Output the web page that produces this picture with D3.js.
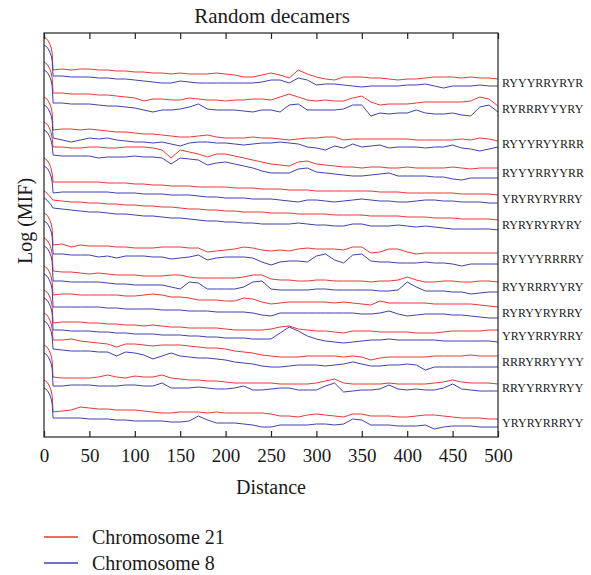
<!DOCTYPE html>
<html><head><meta charset="utf-8">
<script src="https://cdn.jsdelivr.net/npm/d3@7"></script>
<style>
body{margin:0;background:#fff}
text{font-family:"Liberation Serif","Times New Roman",serif;fill:#1a1a1a}
</style>
</head><body>
<svg id="chart" width="591" height="575"></svg>
<script>
// Distance (x) at which every series is sampled
const distance = [0,2,4,6,8,9,10,20,30,40,50,60,70,80,90,100,110,120,130,140,150,160,170,180,190,200,210,220,230,240,250,260,270,280,290,300,310,320,330,340,350,360,370,380,390,400,410,420,430,440,450,460,470,480,490,500];
const xTicks = [0,50,100,150,200,250,300,350,400,450,500];
const decamers = ["RYYYRRYRYR","RYRRRYYYRY","RYYYRYYRRR","RYYYRRYYRR","YRYRYRYRRY","RYRYRYRYRY","RYYYYRRRRY","RYYRRRYYRY","RYRYYRYRRY","YRYYRRYRRY","RRRYRRYYYY","RRYYRRYRYY","YRYRYRRRYY"];
const seriesNames = ["Chromosome 21","Chromosome 8"];

// Log(MIF) values (stacked, arbitrary offset units), one array per decamer and chromosome
const chr21_RYYYRRYRYR = [-37,-38,-40,-43,-48,-53,-70,-69,-70,-69,-69,-70,-70,-71,-71,-72,-72,-73,-73,-74,-73,-74,-74,-74,-73,-74,-75,-77,-77,-75,-73,-75,-78,-70,-74,-77,-79,-80,-77,-77,-77,-78,-78,-79,-80,-79,-79,-78,-77,-77,-77,-78,-77,-78,-78,-79];
const chr8_RYYYRRYRYR  = [-45,-46,-48,-51,-56,-61,-76,-76,-77,-77,-77,-78,-78,-79,-79,-80,-81,-82,-83,-83,-81,-82,-83,-83,-83,-83,-83,-83,-83,-82,-80,-80,-83,-78,-80,-85,-84,-84,-85,-86,-87,-86,-86,-86,-86,-85,-85,-84,-86,-88,-86,-86,-86,-85,-86,-86];
const chr21_RYRRRYYYRY = [-62,-63,-65,-68,-73,-78,-93,-93,-94,-94,-94,-95,-95,-96,-97,-98,-101,-99,-99,-100,-100,-98,-99,-100,-100,-101,-100,-100,-99,-99,-100,-97,-94,-97,-100,-101,-100,-101,-101,-98,-96,-102,-105,-104,-104,-104,-103,-102,-102,-102,-102,-102,-101,-97,-99,-106];
const chr8_RYRRRYYYRY  = [-70,-71,-73,-76,-81,-86,-103,-103,-104,-104,-104,-105,-106,-106,-107,-108,-110,-112,-110,-110,-109,-107,-104,-109,-110,-110,-110,-111,-112,-110,-110,-112,-105,-104,-110,-110,-110,-110,-109,-105,-105,-116,-113,-114,-113,-113,-110,-113,-114,-114,-113,-115,-116,-107,-105,-112];
const chr21_RYYYRYYRRR = [-97,-98,-100,-103,-108,-113,-130,-129,-129,-130,-129,-130,-131,-132,-132,-133,-134,-134,-135,-136,-137,-137,-136,-135,-137,-138,-138,-138,-137,-138,-138,-139,-140,-139,-138,-138,-137,-137,-140,-139,-139,-139,-139,-139,-139,-139,-140,-140,-140,-140,-140,-139,-140,-138,-139,-141];
const chr8_RYYYRYYRRR  = [-105,-106,-108,-111,-116,-121,-138,-140,-142,-140,-138,-139,-138,-140,-141,-142,-142,-143,-142,-144,-146,-143,-142,-142,-143,-143,-144,-145,-144,-143,-143,-142,-143,-144,-147,-148,-150,-146,-148,-144,-147,-146,-145,-148,-147,-147,-147,-148,-147,-147,-145,-148,-149,-151,-149,-147];
const chr21_RYYYRRYYRR = [-122,-123,-125,-128,-133,-138,-147,-147,-148,-148,-147,-147,-148,-148,-147,-147,-147,-148,-150,-158,-150,-152,-154,-157,-154,-154,-156,-158,-160,-162,-164,-165,-166,-162,-161,-164,-165,-166,-167,-167,-168,-167,-167,-168,-168,-167,-168,-168,-168,-168,-167,-168,-169,-168,-168,-168];
const chr8_RYYYRRYYRR  = [-130,-131,-133,-136,-141,-146,-155,-156,-156,-156,-156,-158,-157,-157,-157,-156,-157,-157,-158,-164,-158,-159,-160,-165,-163,-162,-164,-166,-168,-171,-173,-173,-173,-169,-168,-172,-173,-174,-175,-176,-176,-175,-174,-173,-176,-176,-176,-176,-177,-177,-179,-180,-178,-178,-178,-178];
const chr21_YRYRYRYRRY = [-158,-159,-161,-164,-169,-174,-182,-182,-182,-182,-182,-182,-183,-183,-183,-184,-184,-185,-185,-186,-186,-186,-187,-187,-187,-187,-188,-188,-188,-189,-189,-189,-190,-190,-190,-191,-191,-191,-191,-191,-191,-191,-192,-192,-192,-193,-193,-193,-193,-193,-193,-194,-194,-194,-194,-195];
const chr8_YRYRYRYRRY  = [-166,-167,-169,-172,-177,-182,-193,-192,-192,-192,-192,-192,-192,-193,-193,-193,-194,-194,-194,-195,-195,-195,-196,-197,-197,-198,-198,-198,-199,-199,-199,-200,-201,-202,-200,-200,-201,-202,-201,-200,-199,-200,-201,-201,-202,-202,-201,-200,-200,-201,-201,-202,-202,-202,-203,-203];
const chr21_RYRYRYRYRY = [-191,-192,-194,-196,-198,-199,-200,-201,-202,-202,-203,-203,-204,-204,-205,-205,-206,-206,-207,-207,-208,-209,-209,-210,-210,-211,-211,-212,-212,-212,-213,-213,-213,-214,-214,-214,-214,-215,-215,-215,-215,-216,-216,-216,-216,-217,-217,-217,-218,-218,-218,-219,-219,-219,-219,-220];
const chr8_RYRYRYRYRY  = [-198,-199,-201,-203,-205,-207,-208,-209,-210,-211,-212,-212,-213,-214,-214,-215,-216,-216,-217,-218,-218,-219,-220,-221,-221,-222,-222,-223,-223,-224,-224,-224,-224,-223,-224,-225,-225,-226,-226,-224,-224,-226,-226,-226,-225,-226,-227,-226,-227,-228,-229,-229,-229,-229,-229,-230];
const chr21_RYYYYRRRRY = [-213,-214,-216,-219,-224,-229,-245,-244,-247,-245,-246,-246,-246,-247,-247,-248,-248,-248,-247,-247,-247,-248,-248,-252,-251,-250,-249,-247,-248,-250,-251,-250,-251,-249,-248,-249,-249,-249,-250,-247,-247,-253,-252,-249,-249,-252,-254,-253,-253,-253,-253,-253,-253,-253,-253,-253];
const chr8_RYYYYRRRRY  = [-221,-222,-224,-227,-232,-237,-254,-254,-255,-255,-255,-257,-256,-258,-256,-256,-256,-257,-257,-259,-258,-257,-255,-260,-258,-257,-257,-257,-258,-262,-265,-262,-261,-261,-262,-256,-254,-260,-263,-255,-254,-261,-262,-262,-263,-263,-263,-262,-263,-263,-264,-266,-264,-264,-264,-264];
const chr21_RYYRRRYYRY = [-238,-239,-241,-244,-249,-254,-271,-272,-272,-273,-274,-273,-274,-275,-275,-275,-276,-276,-276,-275,-275,-277,-278,-278,-278,-278,-278,-277,-275,-275,-279,-280,-280,-281,-281,-280,-280,-281,-281,-281,-281,-282,-281,-281,-280,-277,-280,-282,-282,-281,-281,-282,-282,-281,-281,-282];
const chr8_RYYRRRYYRY  = [-246,-247,-249,-252,-257,-262,-281,-281,-282,-282,-282,-282,-283,-284,-284,-285,-285,-285,-285,-287,-289,-282,-283,-289,-289,-289,-289,-287,-282,-281,-289,-290,-290,-290,-290,-289,-289,-290,-290,-290,-290,-290,-291,-291,-290,-282,-287,-291,-291,-291,-292,-292,-294,-293,-292,-292];
const chr21_RYRYYRYRRY = [-266,-267,-269,-272,-277,-282,-295,-294,-294,-295,-295,-295,-295,-295,-296,-296,-295,-294,-295,-297,-297,-298,-300,-300,-300,-301,-301,-298,-299,-302,-304,-303,-302,-302,-302,-302,-302,-303,-302,-303,-304,-305,-301,-303,-303,-303,-303,-303,-304,-304,-304,-304,-304,-305,-306,-307];
const chr8_RYRYYRYRRY  = [-274,-275,-277,-280,-285,-290,-307,-307,-307,-307,-307,-307,-308,-308,-309,-309,-309,-309,-310,-310,-310,-311,-311,-311,-312,-312,-312,-312,-313,-315,-316,-313,-313,-313,-313,-313,-313,-313,-313,-313,-314,-314,-313,-311,-314,-316,-315,-314,-314,-314,-315,-315,-316,-317,-318,-318];
const chr21_YRYYRRYRRY = [-290,-291,-293,-296,-301,-306,-323,-322,-322,-322,-323,-323,-324,-324,-325,-325,-326,-325,-326,-327,-327,-328,-328,-328,-328,-329,-330,-330,-330,-330,-329,-327,-326,-329,-330,-331,-331,-332,-333,-331,-331,-331,-332,-332,-332,-332,-333,-333,-333,-332,-331,-331,-331,-331,-330,-330];
const chr8_YRYYRRYRRY  = [-298,-299,-301,-304,-309,-314,-330,-330,-331,-331,-331,-332,-332,-333,-333,-334,-334,-334,-335,-335,-335,-336,-336,-337,-337,-338,-338,-338,-339,-339,-339,-333,-327,-331,-336,-339,-341,-342,-343,-342,-341,-340,-340,-339,-340,-340,-340,-340,-340,-341,-341,-341,-341,-341,-341,-342];
const chr21_RRRYRRYYYY = [-313,-314,-316,-319,-324,-329,-340,-340,-339,-341,-342,-343,-344,-347,-344,-344,-345,-346,-345,-345,-345,-346,-347,-348,-348,-349,-351,-352,-353,-355,-356,-357,-357,-357,-356,-356,-356,-356,-357,-356,-357,-360,-358,-357,-357,-357,-357,-357,-356,-356,-356,-356,-355,-356,-356,-356];
const chr8_RRRYRRYYYY  = [-321,-322,-324,-327,-332,-337,-349,-350,-351,-351,-351,-352,-352,-356,-352,-353,-355,-359,-356,-353,-356,-357,-358,-358,-359,-360,-362,-363,-364,-366,-367,-367,-366,-365,-365,-365,-366,-365,-364,-362,-364,-366,-366,-365,-365,-364,-365,-370,-367,-367,-367,-367,-367,-367,-367,-367];
const chr21_RRYYRRYRYY = [-345,-346,-348,-351,-356,-361,-377,-378,-378,-378,-378,-377,-375,-377,-378,-376,-377,-377,-375,-378,-379,-380,-380,-381,-381,-382,-383,-383,-383,-383,-383,-384,-384,-384,-384,-383,-381,-379,-383,-384,-384,-384,-384,-383,-384,-384,-384,-384,-383,-382,-380,-382,-383,-383,-383,-384];
const chr8_RRYYRRYRYY  = [-353,-354,-356,-359,-364,-369,-386,-386,-385,-385,-385,-386,-386,-386,-385,-385,-386,-386,-383,-388,-388,-388,-387,-388,-389,-389,-388,-386,-390,-390,-389,-388,-388,-390,-390,-390,-386,-383,-392,-391,-390,-390,-389,-385,-389,-390,-389,-390,-390,-388,-384,-389,-390,-391,-391,-391];
const chr21_YRYRYRRRYY = [-380,-381,-383,-386,-391,-396,-412,-411,-410,-407,-408,-409,-409,-410,-410,-410,-411,-412,-413,-413,-412,-412,-412,-413,-412,-413,-413,-413,-413,-413,-414,-416,-416,-417,-415,-414,-415,-416,-417,-414,-414,-416,-416,-416,-417,-417,-416,-415,-415,-416,-417,-418,-418,-418,-419,-419];
const chr8_YRYRYRRRYY  = [-388,-389,-391,-394,-399,-404,-418,-418,-418,-418,-419,-419,-419,-420,-420,-421,-421,-421,-421,-422,-422,-421,-416,-420,-423,-423,-423,-424,-425,-427,-427,-425,-425,-425,-425,-424,-424,-425,-424,-419,-420,-425,-425,-425,-426,-426,-426,-425,-429,-427,-426,-426,-426,-427,-427,-427];

const chr21 = [chr21_RYYYRRYRYR,chr21_RYRRRYYYRY,chr21_RYYYRYYRRR,chr21_RYYYRRYYRR,chr21_YRYRYRYRRY,chr21_RYRYRYRYRY,chr21_RYYYYRRRRY,chr21_RYYRRRYYRY,chr21_RYRYYRYRRY,chr21_YRYYRRYRRY,chr21_RRRYRRYYYY,chr21_RRYYRRYRYY,chr21_YRYRYRRRYY];
const chr8 = [chr8_RYYYRRYRYR,chr8_RYRRRYYYRY,chr8_RYYYRYYRRR,chr8_RYYYRRYYRR,chr8_YRYRYRYRRY,chr8_RYRYRYRYRY,chr8_RYYYYRRRRY,chr8_RYYRRRYYRY,chr8_RYRYYRYRRY,chr8_YRYYRRYRRY,chr8_RRRYRRYYYY,chr8_RRYYRRYRYY,chr8_YRYRYRRRYY];

const colors = ["#ee3535", "#4040b0"];

const svg = d3.select("#chart");
const plot = {left:44, right:498, top:33, bottom:437};
const x = d3.scaleLinear().domain([0,500]).range([plot.left, plot.right]);
const y = d3.scaleLinear().domain([-437,-33]).range([plot.bottom, plot.top]);

const line = d3.line().x((d,i)=>x(distance[i])).y(d=>y(d));

const g = svg.append("g");
decamers.forEach((name,k)=>{
  [chr21[k], chr8[k]].forEach((vals,j)=>{
    g.append("path").datum(vals.slice(0, distance.length))
      .attr("fill","none").attr("stroke",colors[j]).attr("stroke-width",1)
      .attr("stroke-linejoin","round").attr("d",line);
  });
  const a = chr21[k][chr21[k].length-1], b = chr8[k][chr8[k].length-1];
  svg.append("text").attr("x", plot.right+4).attr("y", y((a+b)/2)+4)
    .attr("font-size", 12).text(name);
});

// frame
svg.append("rect").attr("x",plot.left).attr("y",plot.top)
  .attr("width",plot.right-plot.left).attr("height",plot.bottom-plot.top)
  .attr("fill","none").attr("stroke","#222").attr("stroke-width",1.2);

const bottomAxis = svg.append("g").attr("transform",`translate(0,${plot.bottom})`)
  .call(d3.axisBottom(x).tickValues(xTicks).tickSizeInner(-6).tickSizeOuter(0).tickPadding(12));
bottomAxis.select(".domain").remove();
bottomAxis.selectAll("line").attr("stroke","#222").attr("stroke-width",1.2);
bottomAxis.selectAll("text").attr("font-size",19).attr("font-family","Liberation Serif, serif").attr("fill","#1a1a1a");

const topAxis = svg.append("g").attr("transform",`translate(0,${plot.top})`)
  .call(d3.axisTop(x).tickValues(xTicks).tickSizeInner(-6).tickSizeOuter(0).tickFormat(""));
topAxis.select(".domain").remove();
topAxis.selectAll("line").attr("stroke","#222").attr("stroke-width",1.2);

svg.append("text").attr("x",272).attr("y",23).attr("text-anchor","middle").attr("font-size",21).text("Random decamers");
svg.append("text").attr("x",271).attr("y",494).attr("text-anchor","middle").attr("font-size",20).text("Distance");
svg.append("text").attr("transform","translate(32,221) rotate(-90)").attr("text-anchor","middle").attr("font-size",20).text("Log (MIF)");

// legend
seriesNames.forEach((n,j)=>{
  const ly = 537 + j*26;
  svg.append("line").attr("x1",44).attr("x2",78).attr("y1",ly).attr("y2",ly)
    .attr("stroke",colors[j]).attr("stroke-width",1.3);
  svg.append("text").attr("x",92).attr("y",ly+7).attr("font-size",20).text(n);
});
</script>
</body></html>
